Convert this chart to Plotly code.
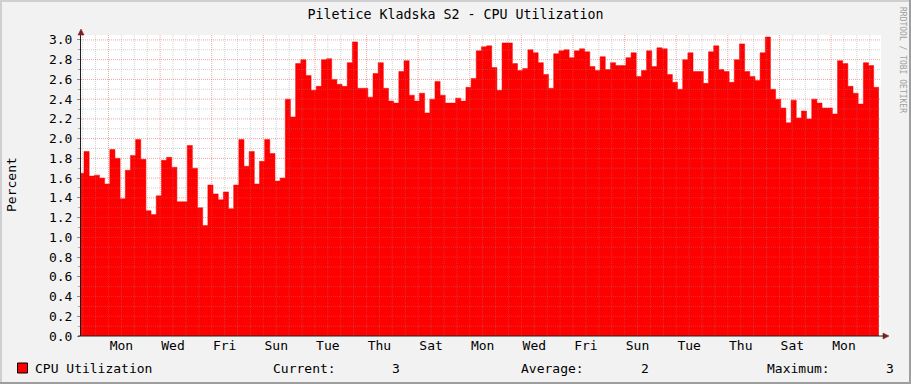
import plotly.graph_objects as go

# ---------------- data ----------------
title_text = "Piletice Kladska S2 - CPU Utilization"
series_name = "CPU Utilization"
y_title = "Percent"
credit = "RRDTOOL / TOBI OETIKER"

# CPU utilisation (percent), one value per consolidated step (4.8 h)
cpu = [
    1.65, 1.87, 1.62, 1.63, 1.60, 1.54, 1.89, 1.80, 1.39, 1.68,
    1.83, 1.99, 1.79, 1.27, 1.23, 1.42, 1.78, 1.81, 1.71, 1.36,
    1.36, 1.93, 1.70, 1.30, 1.12, 1.53, 1.44, 1.38, 1.46, 1.29,
    1.53, 1.99, 1.72, 1.87, 1.54, 1.77, 1.99, 1.85, 1.57,
    1.60, 2.40, 2.22, 2.76, 2.80, 2.64, 2.49, 2.53, 2.80, 2.81,
    2.60, 2.55, 2.53, 2.77, 2.98, 2.51, 2.51, 2.42, 2.66, 2.77,
    2.51, 2.38, 2.36, 2.68, 2.79, 2.44, 2.38, 2.46, 2.26, 2.40,
    2.58, 2.44, 2.36, 2.36, 2.41, 2.38, 2.52, 2.61,
    2.89, 2.93, 2.94, 2.72, 2.49, 2.97, 2.97, 2.76, 2.69, 2.71,
    2.90, 2.87, 2.77, 2.65, 2.51, 2.86, 2.89, 2.90, 2.82, 2.89,
    2.91, 2.88, 2.73, 2.69, 2.83, 2.70, 2.77, 2.74, 2.74, 2.82,
    2.87, 2.63, 2.69, 2.89, 2.73, 2.92, 2.91, 2.65,
    2.57, 2.50, 2.80, 2.87, 2.68, 2.68, 2.56, 2.88, 2.94, 2.70,
    2.68, 2.57, 2.80, 2.96, 2.68, 2.63, 2.59, 2.87, 3.03, 2.50,
    2.40, 2.31, 2.16, 2.39, 2.21, 2.28, 2.20, 2.40, 2.36, 2.31,
    2.31, 2.25, 2.79, 2.76, 2.53, 2.46, 2.35, 2.77, 2.74, 2.52,
]

# time axis (days since left edge of graph)
span_days = 31.0
step_days = 0.2          # 4.8 h consolidation step
first_edge = 0.116       # first (partial) step ends here
day_labels = ["Mon", "Wed", "Fri", "Sun", "Tue", "Thu", "Sat", "Mon",
              "Wed", "Fri", "Sun", "Tue", "Thu", "Sat", "Mon"]
label_first = 1.565      # label positions every 2 days
major_first = 1.065      # major grid every 2 days
minor_first = 0.065      # minor grid every 12 h

y_max = 3.05

# ---------------- geometry ----------------
W, H = 911, 384
L, R, T, B = 81, 30, 35, 48
PW, PH = W - L - R, H - T - B


def pxx(px):
    return (px - L) / PW


def pxy(py):
    return (T + PH - py) / PH


FONT = "DejaVu Sans Mono"
FS = 13

# step x positions
xs = [0.0] + [first_edge + i * step_days for i in range(len(cpu) - 1)]
x_end = first_edge + (len(cpu) - 1) * step_days
xs_plot = xs + [x_end]
ys_plot = cpu + [cpu[-1]]

fig = go.Figure()
fig.add_trace(go.Scatter(
    x=xs_plot, y=ys_plot, mode="lines", line=dict(shape="hv", color="#FF0000", width=0.5),
    fill="tozeroy", fillcolor="#FF0000", hoverinfo="skip", showlegend=False,
))

shapes = []
minor_col = "rgba(143,143,143,0.38)"
major_col = "rgba(222,79,79,0.5)"
# vertical grid
n = 0
while minor_first + 0.5 * n < span_days:
    xv = minor_first + 0.5 * n
    is_major = (n % 4 == 2)
    shapes.append(dict(type="line", xref="x", yref="paper", x0=xv, x1=xv, y0=0, y1=1,
                       line=dict(color=major_col if is_major else minor_col, width=1, dash="1px,1px"),
                       layer="above"))
    n += 1
# horizontal grid
for m in range(1, 31):
    yv = m / 10
    is_major = (m % 2 == 0)
    shapes.append(dict(type="line", xref="paper", yref="y", x0=0, x1=1, y0=yv, y1=yv,
                       line=dict(color=major_col if is_major else minor_col, width=1, dash="1px,1px"),
                       layer="above"))

arrow_col = "rgb(128,31,31)"
# y arrow (top)
shapes.append(dict(type="path", xref="paper", yref="paper",
                   path=f"M {pxx(78)} {pxy(35)} L {pxx(84)} {pxy(35)} L {pxx(81)} {pxy(29)} Z",
                   fillcolor=arrow_col, line=dict(color=arrow_col, width=0.5), layer="above"))
# x arrow (right)
shapes.append(dict(type="path", xref="paper", yref="paper",
                   path=f"M {pxx(883)} {pxy(333)} L {pxx(883)} {pxy(339)} L {pxx(889)} {pxy(336)} Z",
                   fillcolor=arrow_col, line=dict(color=arrow_col, width=0.5), layer="above"))
# x axis extension to arrow
shapes.append(dict(type="line", xref="paper", yref="paper", x0=pxx(78), x1=pxx(884),
                   y0=pxy(336), y1=pxy(336), line=dict(color="rgb(31,31,31)", width=1), layer="above"))

# frame
shadeA = "rgb(207,207,207)"
shadeB = "rgb(158,158,158)"
shapes.append(dict(type="rect", xref="paper", yref="paper", x0=pxx(0), x1=pxx(W), y0=pxy(0), y1=pxy(2),
                   fillcolor=shadeA, line=dict(width=0)))
shapes.append(dict(type="rect", xref="paper", yref="paper", x0=pxx(0), x1=pxx(2), y0=pxy(0), y1=pxy(H),
                   fillcolor=shadeA, line=dict(width=0)))
shapes.append(dict(type="rect", xref="paper", yref="paper", x0=pxx(0), x1=pxx(W), y0=pxy(H - 2), y1=pxy(H),
                   fillcolor=shadeB, line=dict(width=0)))
shapes.append(dict(type="rect", xref="paper", yref="paper", x0=pxx(W - 2), x1=pxx(W), y0=pxy(0), y1=pxy(H),
                   fillcolor=shadeB, line=dict(width=0)))

# legend swatch
shapes.append(dict(type="rect", xref="paper", yref="paper", x0=pxx(17.5), x1=pxx(27.5),
                   y0=pxy(363), y1=pxy(373), fillcolor="#FF0000", line=dict(color="black", width=1)))

cur_v = cpu[-1]
avg_v = sum(cpu) / len(cpu)
max_v = max(cpu)

ann = []


def txt(text, px, py, anchor="left", size=FS, color="black", angle=0):
    ann.append(dict(text=text, xref="paper", yref="paper", x=pxx(px), y=pxy(py),
                    xanchor=anchor, yanchor="middle", showarrow=False, textangle=angle,
                    font=dict(family=FONT, size=size, color=color)))


ly = 368
txt(series_name, 33, ly)
txt("Current:", 271, ly)
txt(f"{cur_v:.0f}", 402, ly, anchor="right")
txt("Average:", 519, ly)
txt(f"{avg_v:.0f}", 651, ly, anchor="right")
txt("Maximum:", 765, ly)
txt(f"{max_v:.0f}", 896, ly, anchor="right")
txt(y_title, 11, 185, anchor="center", angle=-90)
txt(credit, 903, 60, anchor="center", size=8, color="rgb(160,160,160)", angle=90)

fig.update_layout(
    width=W, height=H,
    margin=dict(l=L, r=R, t=T, b=B, pad=0),
    paper_bgcolor="#F2F2F2", plot_bgcolor="#FFFFFF",
    title=dict(text=title_text, x=0.5, xref="container", xanchor="center",
               y=1 - 14 / H, yref="container", yanchor="middle",
               font=dict(family=FONT, size=13.3, color="black")),
    font=dict(family=FONT, size=FS, color="black"),
    shapes=shapes, annotations=ann,
    showlegend=False,
    xaxis=dict(range=[0, span_days], showgrid=False, zeroline=False,
               tickmode="array",
               tickvals=[label_first + 2 * i for i in range(len(day_labels))],
               ticktext=day_labels, ticks="", showline=False,
               tickfont=dict(family=FONT, size=FS, color="black"),
               fixedrange=True),
    yaxis=dict(range=[0, y_max], showgrid=False, zeroline=False,
               tickmode="linear", tick0=0, dtick=0.2, tickformat=".1f",
               ticks="outside", ticklen=3, tickcolor="rgb(143,143,143)",
               ticklabelstandoff=2,
               minor=dict(dtick=0.1, tick0=0, ticks="outside", ticklen=2, tickcolor="rgb(170,170,170)"),
               showline=True, linecolor="rgb(31,31,31)", linewidth=1,
               tickfont=dict(family=FONT, size=FS, color="black"),
               fixedrange=True),
)

fig.write_html("out.html")
